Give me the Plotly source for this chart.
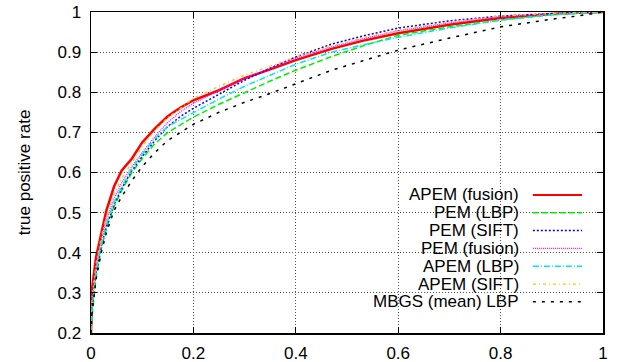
import plotly.graph_objects as go

# False positive rate grid shared by all curves
fpr = [0, 0.002, 0.01, 0.02, 0.03, 0.045, 0.06, 0.08, 0.1, 0.125, 0.15, 0.175,
       0.2, 0.25, 0.3, 0.35, 0.4, 0.47, 0.53, 0.6, 0.7, 0.8, 0.9, 0.95, 1.0]

series_names = ["APEM (fusion)", "PEM (LBP)", "PEM (SIFT)", "PEM (fusion)",
                "APEM (LBP)", "APEM (SIFT)", "MBGS (mean) LBP"]

tpr_apem_fusion = [0.2, 0.31, 0.39, 0.45, 0.505, 0.565, 0.605, 0.635, 0.675, 0.71, 0.74, 0.762,
                   0.78, 0.805, 0.835, 0.857, 0.88, 0.908, 0.928, 0.947, 0.968, 0.985, 0.995, 0.998, 1.0]
tpr_pem_lbp = [0.2, 0.24, 0.34, 0.41, 0.46, 0.515, 0.555, 0.6, 0.635, 0.672, 0.7, 0.72,
               0.738, 0.77, 0.8, 0.828, 0.855, 0.889, 0.915, 0.942, 0.963, 0.98, 0.993, 0.997, 1.0]
tpr_pem_sift = [0.2, 0.26, 0.35, 0.415, 0.465, 0.52, 0.56, 0.605, 0.64, 0.68, 0.715, 0.74,
                0.76, 0.795, 0.83, 0.86, 0.888, 0.92, 0.94, 0.96, 0.978, 0.99, 0.997, 0.999, 1.0]
tpr_pem_fusion = [0.2, 0.28, 0.365, 0.43, 0.48, 0.535, 0.575, 0.615, 0.65, 0.69, 0.725, 0.752,
                  0.772, 0.805, 0.835, 0.86, 0.885, 0.913, 0.933, 0.953, 0.973, 0.988, 0.996, 0.999, 1.0]
tpr_apem_lbp = [0.2, 0.26, 0.355, 0.42, 0.47, 0.525, 0.565, 0.61, 0.645, 0.685, 0.715, 0.732,
                0.75, 0.783, 0.815, 0.843, 0.87, 0.9, 0.918, 0.937, 0.96, 0.98, 0.993, 0.997, 1.0]
tpr_apem_sift = [0.2, 0.29, 0.375, 0.44, 0.49, 0.545, 0.585, 0.625, 0.665, 0.705, 0.737, 0.76,
                 0.785, 0.815, 0.843, 0.865, 0.888, 0.915, 0.935, 0.955, 0.975, 0.99, 0.997, 0.999, 1.0]
tpr_mbgs = [0.2, 0.25, 0.335, 0.4, 0.45, 0.505, 0.54, 0.58, 0.615, 0.65, 0.68, 0.70,
            0.72, 0.75, 0.775, 0.797, 0.822, 0.855, 0.878, 0.905, 0.935, 0.963, 0.982, 0.99, 1.0]

x_ticks = [0, 0.2, 0.4, 0.6, 0.8, 1]
x_tick_labels = ["0", "0.2", "0.4", "0.6", "0.8", "1"]
y_ticks = [0.2, 0.3, 0.4, 0.5, 0.6, 0.7, 0.8, 0.9, 1.0]
y_tick_labels = ["0.2", "0.3", "0.4", "0.5", "0.6", "0.7", "0.8", "0.9", "1"]

all_tpr = [tpr_apem_fusion, tpr_pem_lbp, tpr_pem_sift, tpr_pem_fusion,
           tpr_apem_lbp, tpr_apem_sift, tpr_mbgs]
styles = [
    dict(color="#ff0000", width=2.5, dash="solid"),
    dict(color="#00ee00", width=1.5, dash="6px,3px"),
    dict(color="#0000ff", width=1.5, dash="2px,2px"),
    dict(color="#ff00ff", width=1.2, dash="1px,1px"),
    dict(color="#00e8e8", width=1.5, dash="6px,2px,1px,2px"),
    dict(color="#ffc000", width=1.2, dash="3px,3px,1px,3px"),
    dict(color="#000000", width=1.5, dash="3px,6px"),
]
legend_widths = [2, 1.5, 1.5, 1.2, 1.5, 1.2, 1.5]

FONT = "Liberation Sans, Arial, sans-serif"

fig = go.Figure()
for name, tpr, st in zip(series_names, all_tpr, styles):
    fig.add_trace(go.Scatter(x=fpr, y=tpr, mode="lines", name=name,
                             line=st, showlegend=False))

# custom gnuplot-style legend (text right-aligned, sample to the right)
legend_top = 0.430
legend_step = 0.0555
for i, (name, st, lw) in enumerate(zip(series_names, styles, legend_widths)):
    yy = legend_top - i * legend_step
    fig.add_annotation(x=0.837, y=yy, xref="paper", yref="paper", text=name,
                       showarrow=False, xanchor="right", yanchor="middle",
                       borderpad=0,
                       font=dict(family=FONT, size=17, color="black"))
    fig.add_shape(type="line", xref="paper", yref="paper",
                  x0=0.863, x1=0.959, y0=yy, y1=yy,
                  line=dict(color=st["color"], width=lw, dash=st["dash"]))

axis_common = dict(
    showline=True, linecolor="black", linewidth=1.5, mirror="ticks",
    ticks="inside", ticklen=6, tickwidth=1, tickcolor="black",
    showgrid=True, gridcolor="#555555", griddash="1px,2px", gridwidth=1,
    zeroline=False, automargin=False, ticklabeloverflow="allow",
    tickfont=dict(family=FONT, size=17, color="black"),
)

fig.update_xaxes(range=[0, 1], tickvals=x_ticks, ticktext=x_tick_labels,
                 ticklabelstandoff=4, **axis_common)
fig.update_yaxes(range=[0.2, 1], tickvals=y_ticks, ticktext=y_tick_labels,
                 ticklabelstandoff=5,
                 title=dict(text="true positive rate", standoff=22,
                            font=dict(family=FONT, size=17, color="black")),
                 **axis_common)

fig.update_layout(
    width=618, height=362,
    margin=dict(l=91, r=15, t=12, b=29),
    paper_bgcolor="white", plot_bgcolor="white",
    font=dict(family=FONT, size=17, color="black"),
)

# remove the default 8px page margin so the figure fills the window exactly
fig.write_html("out.html",
               config={"displayModeBar": False, "staticPlot": True},
               post_script="document.body.style.margin='0';"
                           "document.body.style.overflow='hidden';")
